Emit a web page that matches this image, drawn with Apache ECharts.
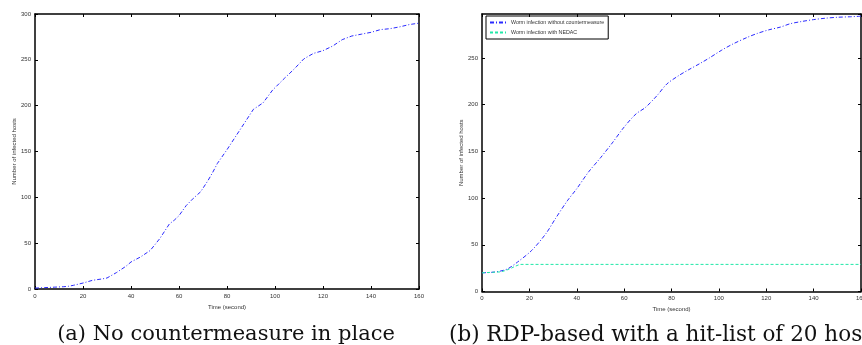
<!DOCTYPE html>
<html>
<head>
<meta charset="utf-8">
<script src="https://cdn.jsdelivr.net/npm/echarts@6/dist/echarts.min.js"></script>
<style>
  html, body { margin: 0; padding: 0; background: #fff; }
  #chart { width: 862px; height: 345px; }
</style>
</head>
<body>
<div id="chart"></div>
<script>
// (a) sans contre-mesure
const timeA = [0, 4, 8, 12, 14, 16, 20, 24, 28, 30, 34, 38, 40, 44, 48, 52, 56, 58, 60, 63, 66, 69, 72, 74, 76, 80, 84, 88, 91, 95, 99, 104, 108, 112, 116, 120, 124, 128, 132, 136, 140, 144, 148, 152, 156, 160];
const infectedA = [1, 1.5, 2, 2.5, 3, 4, 6.5, 9.5, 11, 12, 18, 25, 29.5, 35, 42, 55, 71, 75, 80, 91, 99, 106, 118, 127, 137, 152, 168, 184, 196, 203, 217, 230, 240, 251, 257, 260, 265, 272, 276, 278, 280, 283, 284, 286, 288.5, 290];

// (b) RDP avec hit-list de 20 hôtes
const timeB = [0, 4, 8, 11, 15, 21, 27, 31, 36, 40, 45, 50, 55, 60, 65, 69, 74, 78, 83, 87, 92, 96, 101, 106, 112, 116, 121, 126, 130, 135, 140, 145, 150, 155, 160];
const infectedNoCM = [20, 20.5, 22, 24.5, 31.5, 44, 62, 78, 97, 110, 128, 143, 159, 176, 190, 197, 210, 222, 231, 237, 244, 250, 258, 265, 272, 276, 280, 283, 286.5, 289, 291, 292.5, 293.5, 294, 294.6];
const timeNedac = [0, 4, 8, 10, 12, 14, 16, 20, 40, 60, 80, 100, 120, 140, 160];
const infectedNedac = [20, 20.5, 21, 22.5, 24.5, 27, 29, 29, 29, 29, 29, 29, 29, 29, 29];

const captionA = "(a) No countermeasure in place";
const captionB = "(b) RDP-based with a hit-list of 20 hosts";
const legendNames = ["Worm infection without countermeasure", "Worm infection with NEDAC"];

const zip = (xs, ys) => xs.map((x, i) => [x, ys[i]]);

const sans = "Liberation Sans, Arial, sans-serif";
const tickLabel = { fontSize: 6, color: "#333", fontFamily: sans, margin: 4 };
const frameLine = { show: true, onZero: false, lineStyle: { color: "#000", width: 1.5 } };
const innerTick = { show: true, inside: true, length: 3, lineStyle: { color: "#000" } };

function mainX(grid) {
  return {
    type: "value", gridIndex: grid, min: 0, max: 160, interval: 20,
    position: "bottom",
    name: "Time (second)", nameLocation: "middle", nameGap: 12,
    nameTextStyle: { fontSize: 6, color: "#333", fontFamily: sans },
    axisLine: frameLine, axisTick: innerTick, axisLabel: tickLabel,
    splitLine: { show: false },
  };
}
function mirrorX(grid) {
  return {
    type: "value", gridIndex: grid, min: 0, max: 160, interval: 20, position: "top",
    axisLine: frameLine, axisTick: innerTick, axisLabel: { show: false }, splitLine: { show: false },
  };
}
function mainY(grid, max) {
  return {
    type: "value", gridIndex: grid, min: 0, max: max, interval: 50, position: "left",
    name: "Number of infected hosts", nameLocation: "middle", nameGap: 17,
    nameTextStyle: { fontSize: 6, color: "#333", fontFamily: sans },
    axisLine: frameLine, axisTick: innerTick,
    axisLabel: Object.assign({}, tickLabel, { showMaxLabel: max % 50 === 0 }),
    splitLine: { show: false },
  };
}
function mirrorY(grid, max) {
  return {
    type: "value", gridIndex: grid, min: 0, max: max, interval: 50, position: "right",
    axisLine: frameLine, axisTick: innerTick, axisLabel: { show: false }, splitLine: { show: false },
  };
}

const chart = echarts.init(document.getElementById("chart"), null, { renderer: "canvas" });
chart.setOption({
  animation: false,
  backgroundColor: "#fff",
  title: [
    { text: captionA, left: 221, top: 319, textAlign: "center",
      textStyle: { fontFamily: "DejaVu Serif, serif", fontWeight: "normal", fontSize: 21, color: "#111" } },
    { text: captionB, left: 444, top: 319,
      textStyle: { fontFamily: "DejaVu Serif, serif", fontWeight: "normal", fontSize: 21.5, color: "#111" } },
  ],
  legend: {
    data: legendNames,
    left: 486, top: 16, orient: "vertical",
    borderColor: "#000", borderWidth: 1, borderRadius: 0,
    padding: [4, 4, 4, 3], itemGap: 5, itemWidth: 16, itemHeight: 6,
    itemStyle: { opacity: 0 },
    textStyle: { fontSize: 5.3, color: "#333", fontFamily: sans },
  },
  grid: [
    { left: 35, right: 443, top: 14, bottom: 56, outerBoundsMode: "none" },
    { left: 482, right: 1, top: 14, bottom: 53.5, outerBoundsMode: "none" },
  ],
  xAxis: [mainX(0), mirrorX(0), mainX(1), mirrorX(1)],
  yAxis: [mainY(0, 300), mirrorY(0, 300), mainY(1, 297), mirrorY(1, 297)],
  series: [
    {
      type: "line", xAxisIndex: 0, yAxisIndex: 0, data: zip(timeA, infectedA),
      showSymbol: false, symbol: "none",
      lineStyle: { color: "#2a2aff", width: 1, type: [4, 2, 1, 2] },
      itemStyle: { color: "#2a2aff" },
    },
    {
      name: legendNames[0],
      type: "line", xAxisIndex: 2, yAxisIndex: 2, data: zip(timeB, infectedNoCM),
      showSymbol: false, symbol: "none", smooth: 0.3,
      lineStyle: { color: "#2a2aff", width: 1, type: [4, 2, 1, 2] },
      itemStyle: { color: "#2a2aff" },
    },
    {
      name: legendNames[1],
      type: "line", xAxisIndex: 2, yAxisIndex: 2, data: zip(timeNedac, infectedNedac),
      showSymbol: false, symbol: "none",
      lineStyle: { color: "#22e8a8", width: 1, type: [3, 2] },
      itemStyle: { color: "#22e8a8" },
    },
  ],
});
</script>
</body>
</html>
